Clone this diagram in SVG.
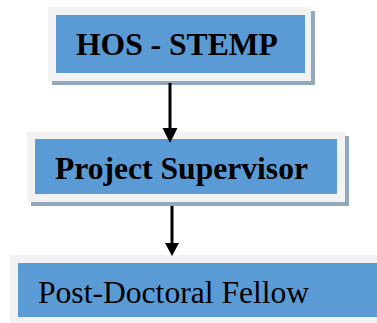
<svg xmlns="http://www.w3.org/2000/svg" width="377" height="323" viewBox="0 0 377 323">
  <style>
    .shadow { fill: #93a7bf; }
    .frame { fill: #f2f2f2; }
    .box { fill: #5b9bd5; }
    .label { font-family: "Liberation Serif", "Times New Roman", serif; font-size: 31.6px; fill: #000; }
    .bold { font-weight: bold; }
    .edge { stroke: #000; stroke-width: 3; fill: none; }
    .head { fill: #000; }
  </style>

  <rect width="377" height="323" fill="#fff"/>

  <g id="node-hos">
    <rect class="shadow" x="52" y="11" width="263" height="74"/>
    <rect class="frame" x="48" y="7" width="263" height="74"/>
    <rect class="box" x="56" y="15" width="249" height="58"/>
    <text class="label bold" x="76" y="55">HOS - STEMP</text>
  </g>

  <g id="node-supervisor">
    <rect class="shadow" x="31" y="136" width="318" height="70"/>
    <rect class="frame" x="27" y="132" width="318" height="70"/>
    <rect class="box" x="35" y="139" width="302" height="55"/>
    <text class="label bold" x="55" y="179">Project Supervisor</text>
  </g>

  <g id="node-postdoc">
    <rect class="frame" x="10" y="255" width="372" height="72"/>
    <rect class="box" x="18" y="263" width="364" height="54"/>
    <text class="label" x="38" y="303">Post-Doctoral Fellow</text>
  </g>

  <g id="connectors">
    <line class="edge" x1="170" y1="83" x2="170" y2="130"/>
    <polygon class="head" points="162.5,128 177.5,128 170,143"/>
    <line class="edge" x1="172" y1="206" x2="172" y2="245"/>
    <polygon class="head" points="165,243 179,243 172,256"/>
  </g>
</svg>
